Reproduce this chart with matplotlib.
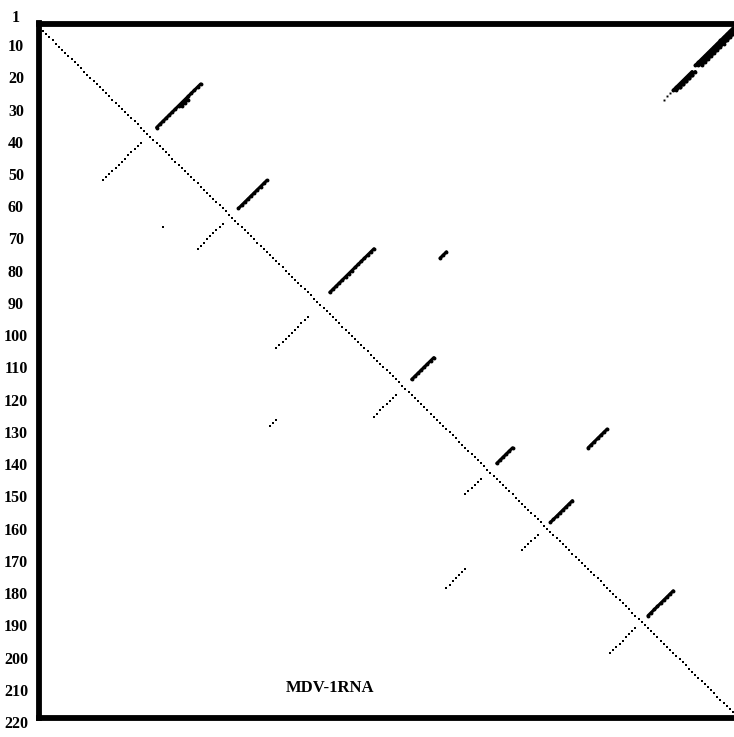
import matplotlib
matplotlib.use("Agg")
import matplotlib.pyplot as plt

# MDV-1 RNA dot plot: 221 nucleotides on both axes
seq_length = 221

# helices above the diagonal (solid): first base i, partner j, number of pairs
solid_i = [1, 2, 3, 15, 15, 16, 19, 24, 50, 72, 73, 107, 136, 130, 153, 182]
solid_j = [221, 221, 221, 208, 209, 208, 52, 48, 73, 107, 130, 126, 151, 181, 170, 202]
solid_n = [13, 12, 11, 7, 6, 6, 15, 3, 10, 15, 3, 8, 6, 7, 8, 9]

# faint dots trailing the top right helix
tail_i = [22]
tail_j = [201]
tail_n = [3]

# helices below the diagonal (dotted)
dotted_i = [21, 51, 40, 76, 74, 107, 136, 154, 130, 182]
dotted_j = [50, 72, 65, 104, 129, 126, 151, 169, 181, 202]
dotted_n = [13, 9, 1, 11, 3, 8, 6, 6, 7, 9]

# left hand labels
tick_values = [1, 10, 20, 30, 40, 50, 60, 70, 80, 90, 100, 110, 120, 130,
               140, 150, 160, 170, 180, 190, 200, 210, 220]

title_text = "MDV-1RNA"


def helix_points(i, j, n):
    """Returns the (small index, large index) pairs of one helix."""
    small = [i + k for k in range(n)]
    large = [j - k for k in range(n)]
    return small, large


def draw_helices(ax, starts, partners, counts, upper, **style):
    """Draws each helix as points, above or below the diagonal."""
    for i, j, n in zip(starts, partners, counts):
        small, large = helix_points(i, j, n)
        if upper:
            ax.plot(large, small, **style)
        else:
            ax.plot(small, large, **style)


def main():
    W, H = 734, 737
    fig = plt.figure(figsize=(W / 100, H / 100), dpi=100)

    # box: left edge 38.5px, top 23.5px, bottom 718px, right edge at figure edge
    left, top, bottom, right = 38.5, 23.5, 718.0, 734.0
    ax = fig.add_axes([left / W, (H - bottom) / H, (right - left) / W, (bottom - top) / H])
    ax.set_xlim(0.52, 221.3)
    ax.set_ylim(222.9, -0.45)
    ax.set_xticks([])
    ax.set_yticks([])
    for side in ["top", "left", "bottom"]:
        ax.spines[side].set_linewidth(4.2)
        ax.spines[side].set_color("black")
    ax.spines["right"].set_visible(False)

    # the main diagonal
    bases = list(range(1, seq_length + 1))
    ax.plot(bases, bases, linestyle="none", marker="s", markersize=1.9,
            color="black", markeredgewidth=0)

    draw_helices(ax, solid_i, solid_j, solid_n, True,
                 color="black", linewidth=2.2, marker="o", markersize=2.8,
                 markeredgewidth=0, solid_capstyle="round")
    draw_helices(ax, tail_i, tail_j, tail_n, True,
                 linestyle="none", marker="s", markersize=1.4,
                 color="black", markeredgewidth=0)
    draw_helices(ax, dotted_i, dotted_j, dotted_n, False,
                 linestyle="none", marker="s", markersize=2.0,
                 color="black", markeredgewidth=0)

    ax.text(93, 213.2, title_text, ha="center", va="center",
            fontsize=12, fontweight="bold", family="Liberation Serif")

    # labels sit on their own scale, a little wider than the box
    lab = fig.add_axes([16 / W, 0, 0.0001, 1])
    lab.set_ylim(224.6, -3.96)
    lab.set_xticks([])
    lab.set_yticks(tick_values)
    lab.set_yticklabels([str(v) for v in tick_values], family="Liberation Serif",
                        fontsize=11.5, fontweight="bold", ha="center")
    lab.tick_params(axis="y", length=0, pad=0)
    for s in lab.spines.values():
        s.set_visible(False)
    lab.patch.set_visible(False)

    fig.savefig("out.png", dpi=100)


if __name__ == "__main__":
    main()
